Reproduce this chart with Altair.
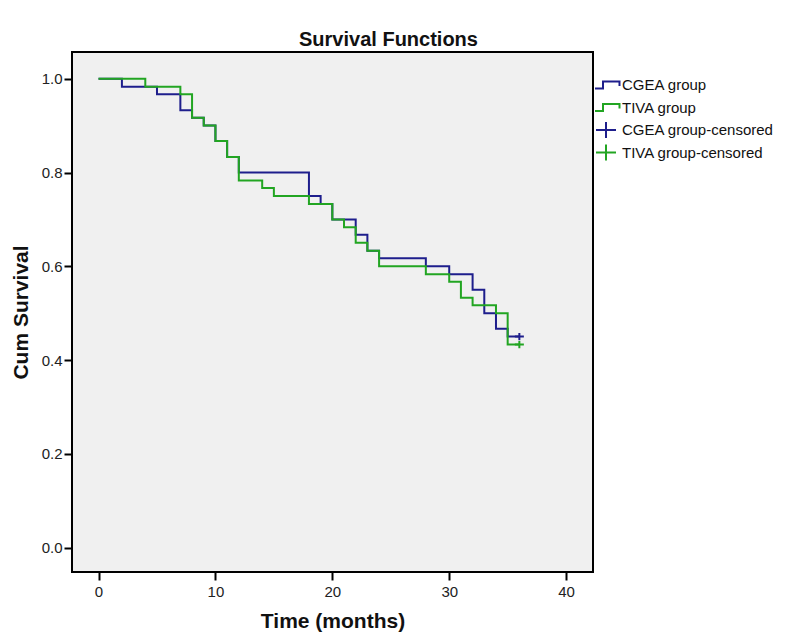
import altair as alt
import pandas as pd

# ---- data ----
group_labels = ["CGEA group", "TIVA group", "CGEA group-censored", "TIVA group-censored"]
group_colors = ["#1E1E8C", "#22A522", "#1E1E8C", "#22A522"]

cgea_times = [0, 2, 5, 7, 8, 9, 10, 11, 12, 18, 19, 20, 22, 23, 24, 28, 30, 32, 33, 34, 35, 36]
cgea_surv = [1.0, 0.983, 0.967, 0.933, 0.917, 0.9, 0.867, 0.833, 0.8, 0.75, 0.733, 0.7,
             0.667, 0.633, 0.617, 0.6, 0.583, 0.55, 0.5, 0.467, 0.45, 0.45]

tiva_times = [0, 4, 7, 8, 9, 10, 11, 12, 14, 15, 18, 20, 21, 22, 23, 24, 28, 30, 31, 32, 34, 35, 36]
tiva_surv = [1.0, 0.983, 0.967, 0.917, 0.9, 0.867, 0.833, 0.783, 0.767, 0.75, 0.733, 0.7,
             0.683, 0.65, 0.633, 0.6, 0.583, 0.567, 0.533, 0.517, 0.5, 0.433, 0.433]

censor_labels = ["CGEA group-censored", "TIVA group-censored"]
censor_times = [36, 36]
censor_surv = [0.45, 0.433]

x_ticks = [0, 10, 20, 30, 40]
y_ticks = [0.0, 0.2, 0.4, 0.6, 0.8, 1.0]

# ---- tables ----
cgea_df = pd.DataFrame({"time": cgea_times, "surv": cgea_surv, "label": "CGEA group"})
tiva_df = pd.DataFrame({"time": tiva_times, "surv": tiva_surv, "label": "TIVA group"})
cens_df = pd.DataFrame({"time": censor_times, "surv": censor_surv, "label": censor_labels})

FONT = "Liberation Sans"
step_path = "M-1.35,0.35 L-0.3,0.35 L-0.3,-0.35 L1.35,-0.35 L1.35,0.1"
cross_path = "M-1,0 L1,0 M0,-0.8 L0,0.8"

color_scale = alt.Scale(domain=group_labels, range=group_colors)
shape_scale = alt.Scale(domain=group_labels, range=[step_path, step_path, cross_path, cross_path])

x_enc = alt.X(
    "time:Q",
    scale=alt.Scale(domain=[-2.27, 42.3], nice=False, zero=False),
    axis=alt.Axis(
        values=x_ticks, title="Time (months)", grid=False, domain=False,
        tickSize=8, tickWidth=2, tickColor="black", labelPadding=4,
        labelFont=FONT, labelFontSize=15, labelColor="#222222",
        titleFont=FONT, titleFontSize=21, titleFontWeight="bold", titleColor="#111111",
        titlePadding=11,
    ),
)
y_enc = alt.Y(
    "surv:Q",
    scale=alt.Scale(domain=[-0.052, 1.057], nice=False, zero=False),
    axis=alt.Axis(
        values=y_ticks, format=".1f", title="Cum Survival", grid=False, domain=False,
        tickSize=8, tickWidth=2, tickColor="black", labelPadding=2,
        labelFont=FONT, labelFontSize=15, labelColor="#222222",
        titleFont=FONT, titleFontSize=21, titleFontWeight="bold", titleColor="#111111",
        titlePadding=10,
    ),
)

cgea_line = alt.Chart(cgea_df).mark_line(interpolate="step-after", strokeWidth=2).encode(
    x=x_enc, y=y_enc, color=alt.value(group_colors[0]),
)
tiva_line = alt.Chart(tiva_df).mark_line(interpolate="step-after", strokeWidth=2).encode(
    x=x_enc, y=y_enc, color=alt.value(group_colors[1]),
)
censor_pts = alt.Chart(cens_df).mark_point(filled=False, size=81, strokeWidth=2, opacity=1).encode(
    x=x_enc, y=y_enc,
    color=alt.Color(
        "label:N", scale=color_scale,
        legend=alt.Legend(
            title=None, orient="none", legendX=523, legendY=23,
            symbolSize=400, symbolStrokeWidth=2, symbolFillColor="transparent",
            labelFont=FONT, labelFontSize=15, labelColor="#111111", labelOffset=5,
            rowPadding=2.5, padding=0, symbolOpacity=1, clipHeight=20,
        ),
    ),
    shape=alt.Shape("label:N", scale=shape_scale),
)

chart = (
    alt.layer(cgea_line, tiva_line, censor_pts)
    .properties(
        width=521, height=520,
        autosize=alt.AutoSizeParams(type="none"),
        padding={"left": 64, "top": 44, "right": 186, "bottom": 66},
        title=alt.TitleParams(
            "Survival Functions", font=FONT, fontSize=20, fontWeight="bold",
            color="#111111", anchor="middle", dx=56, offset=2,
        ),
        background="white",
    )
    .configure_view(fill="#F0F0F0", stroke="black", strokeWidth=2)
)

chart.save("out.html", embed_options={"renderer": "svg", "actions": False})
